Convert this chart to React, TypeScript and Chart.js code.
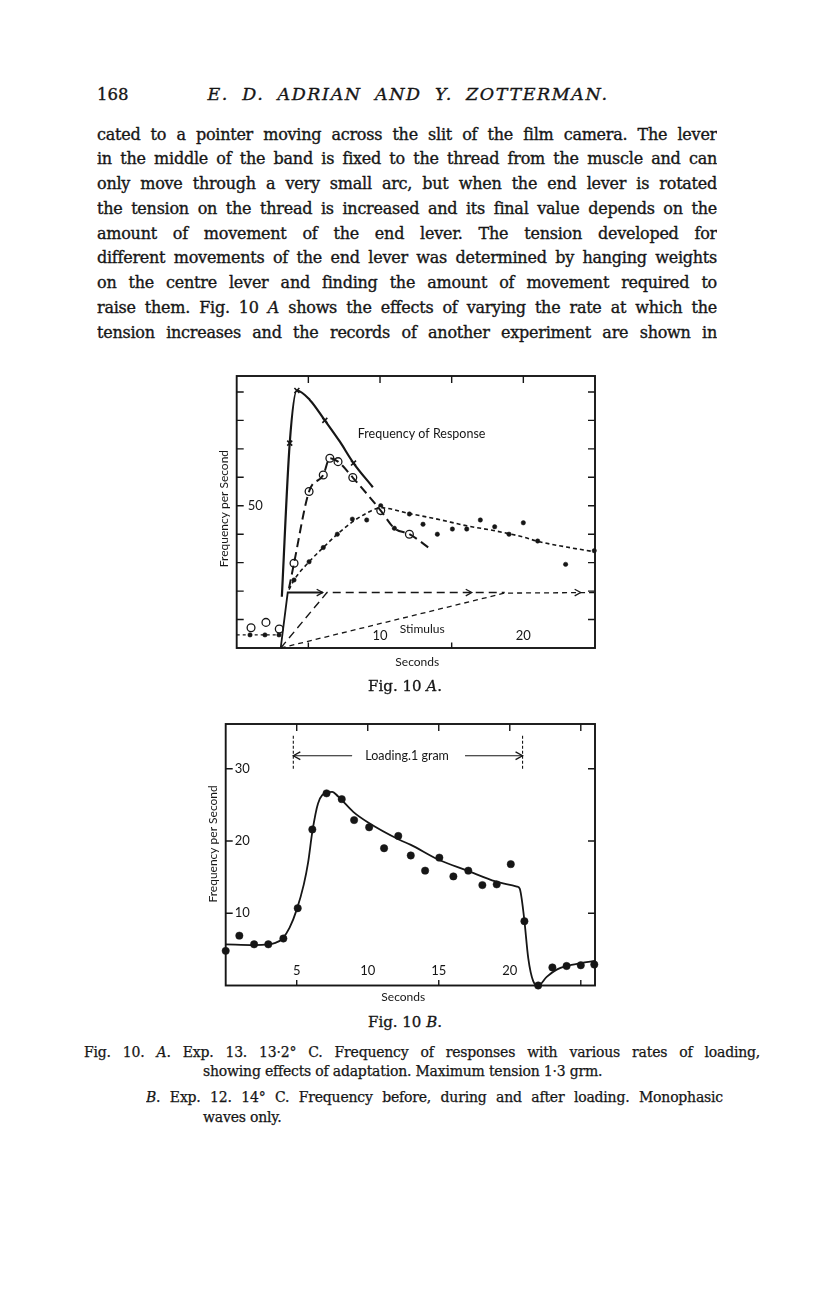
import React, { useEffect, useRef } from "react";
import { Chart, registerables } from "chart.js";

Chart.register(...registerables);

// ---------------- Fig. 10 A (Exp. 13) ----------------
const aXMin = 0;
const aXMax = 25;
const aYMin = 0;
const aYMax = 95.6;

// crosses, solid curve
const aCrossCurveX = [3.15, 3.7, 4.2, 5.1, 6.15, 7.2, 8.15, 9.5];
const aCrossCurveY = [18, 72, 90.5, 87.2, 80, 72.5, 65, 56.5];
const aCrossMarkX = [3.7, 4.2, 6.15, 8.15];
const aCrossMarkY = [72, 90.5, 80, 65];

// open circles, long dashed curve
const aCircleCurveX = [3.65, 4.0, 5.05, 6.04, 6.5, 7.07, 8.1, 10.05, 11.0, 12.05, 13.6];
const aCircleCurveY = [21, 29.8, 55, 60.8, 66.7, 65.5, 59.9, 48.3, 42.1, 40, 34.5];
const aCircleMarkX = [1.0, 2.04, 2.97, 4.0, 5.05, 6.04, 6.5, 7.07, 8.1, 10.05, 12.05];
const aCircleMarkY = [7.1, 9.0, 6.7, 29.8, 55, 60.8, 66.7, 65.5, 59.9, 48.3, 40];

// filled dots, short dashed curve
const aDotBaseX = [0, 3.0];
const aDotBaseY = [4.6, 4.6];
const aDotCurveX = [3.65, 4.0, 5.05, 6.04, 7.02, 8.07, 9.0, 10.05, 12.0, 14.0, 16.0, 18.0, 20.0, 21.0, 23.0, 25.0];
const aDotCurveY = [20.5, 23.9, 30.3, 35.3, 40, 44.3, 47.2, 49.3, 47.3, 45.3, 43, 41.2, 39, 37.5, 35.5, 33.8];
const aDotMarkX = [0.93, 1.97, 2.95, 4.0, 5.05, 6.04, 7.02, 8.07, 9.07, 10.05, 11.0, 12.05, 13.0, 14.0, 15.05, 16.05, 17.0, 18.0, 19.0, 20.0, 21.0, 22.95, 24.95];
const aDotMarkY = [4.6, 4.6, 4.6, 23.9, 30.3, 35.3, 40, 45.3, 45, 50, 42.1, 47.1, 43.5, 40, 41.8, 41.8, 45, 42.6, 40, 44, 37.6, 29.4, 34.2];

// stimulus (rate of loading) lines
const aStimSolidX = [3.07, 3.56, 6.0];
const aStimSolidY = [0, 19.5, 19.5];
const aStimLongX = [3.07, 6.3, 18.7];
const aStimLongY = [0, 19.5, 19.5];
const aStimShortX = [3.07, 18.7, 25];
const aStimShortY = [0, 19.3, 19.5];
const aStimArrowX = [6.0, 16.4, 24.0];
const aStimArrowY = [19.5, 19.5, 19.5];

const aXTicks = [5, 10, 15, 20];
const aXTickLabels = ["10", "20"];
const aXTickLabelVals = [10, 20];
const aYTicks = [10, 20, 30, 40, 50, 60, 70, 80, 90];
const aYTickLabels = ["50"];
const aYTickLabelVals = [50];

// ---------------- Fig. 10 B (Exp. 12) ----------------
const bXMin = 0;
const bXMax = 26;
const bYMin = 0;
const bYMax = 36.2;

const bCurveX = [0, 2, 3, 3.5, 4, 4.5, 5, 5.5, 5.8, 6.1, 6.5, 7.1, 7.5, 7.9, 9, 10, 12.3, 13, 15, 17, 19, 20.5, 20.7, 21.0, 21.3, 21.65, 22.0, 22.6, 23.3, 24, 25, 26];
const bCurveY = [5.7, 5.6, 5.7, 5.9, 6.5, 8, 10.5, 14, 17, 21.3, 25.2, 26.7, 26.8, 26.2, 24, 22.6, 20.1, 19.5, 17.4, 15.9, 14.4, 13.7, 13.4, 9.5, 3.8, 0.6, 0, 1.2, 2.2, 2.7, 3.1, 3.4];
const bDotX = [0, 0.96, 2.0, 3.0, 4.06, 5.07, 6.1, 7.1, 8.17, 9.04, 10.1, 11.15, 12.15, 13.03, 14.04, 15.04, 16.03, 17.08, 18.07, 19.08, 20.07, 21.03, 22.0, 23.0, 24.0, 25.0, 25.95];
const bDotY = [4.8, 6.9, 5.7, 5.7, 6.5, 10.7, 21.6, 26.6, 25.8, 22.9, 21.9, 19.0, 20.7, 18.0, 15.9, 17.7, 15.1, 15.9, 13.9, 14.0, 16.8, 8.9, 0, 2.5, 2.7, 2.8, 2.9];

// loading period marker (1 gram)
const bLoadStartX = 4.76;
const bLoadEndX = 20.9;
const bLoadLowY = 30;
const bLoadHighY = 34.6;
const bLoadArrowY = 31.8;
const bLoadShaftLeftEndX = 8.9;
const bLoadShaftRightStartX = 16.85;

const bXTicksTop = [5, 10, 15, 20, 25];
const bXTicksBottom = [5, 15, 25];
const bXTickLabels = ["5", "10", "15", "20"];
const bXTickLabelVals = [5, 10, 15, 20];
const bYTicks = [10, 20, 30];
const bYTickLabels = ["10", "20", "30"];
const bYTickLabelVals = [10, 20, 30];

// ---------------- text ----------------
const bodyLines: React.ReactNode[] = [
  "cated to a pointer moving across the slit of the film camera. The lever",
  "in the middle of the band is fixed to the thread from the muscle and can",
  "only move through a very small arc, but when the end lever is rotated",
  "the tension on the thread is increased and its final value depends on the",
  "amount of movement of the end lever. The tension developed for",
  "different movements of the end lever was determined by hanging weights",
  "on the centre lever and finding the amount of movement required to",
  <>raise them. Fig. 10 <i>A</i> shows the effects of varying the rate at which the</>,
  "tension increases and the records of another experiment are shown in",
];

const INK = "#161616";
const CHART_FONT = '"Lato", "Open Sans", sans-serif';
const SERIF = '"DejaVu Serif", "Liberation Serif", serif';

const pts = (xs: number[], ys: number[]) => xs.map((x, i) => ({ x, y: ys[i] }));

const paperPlugin = {
  id: "paper",
  afterDatasetsDraw(chart: any, _args: any, o: any) {
    const { ctx, chartArea: a } = chart;
    const x = chart.scales.x;
    const y = chart.scales.y;
    ctx.save();
    ctx.strokeStyle = INK;
    ctx.fillStyle = INK;
    ctx.lineWidth = o.frameWidth;
    ctx.lineCap = "square";
    ctx.strokeRect(a.left, a.top, a.right - a.left, a.bottom - a.top);

    ctx.lineWidth = o.tickWidth;
    ctx.lineCap = "butt";
    ctx.beginPath();
    for (const v of o.xTicksTop) {
      const px = x.getPixelForValue(v);
      ctx.moveTo(px, a.top);
      ctx.lineTo(px, a.top + o.tickLen);
    }
    for (const v of o.xTicksBottom) {
      const px = x.getPixelForValue(v);
      ctx.moveTo(px, a.bottom);
      ctx.lineTo(px, a.bottom - o.tickLen * 0.8);
    }
    for (const v of o.yTicks) {
      const py = y.getPixelForValue(v);
      ctx.moveTo(a.left, py);
      ctx.lineTo(a.left + o.tickLen, py);
      ctx.moveTo(a.right, py);
      ctx.lineTo(a.right - o.tickLen, py);
    }
    ctx.stroke();

    // tick labels drawn inside the frame
    ctx.font = `${o.tickFontSize}px ${CHART_FONT}`;
    ctx.textBaseline = "middle";
    ctx.textAlign = "center";
    o.xLabels.forEach((t: string, i: number) => {
      ctx.fillText(t, x.getPixelForValue(o.xLabelVals[i]), a.bottom - o.xLabelRise);
    });
    ctx.textAlign = "left";
    o.yLabels.forEach((t: string, i: number) => {
      ctx.fillText(t, a.left + o.yLabelInset, y.getPixelForValue(o.yLabelVals[i]));
    });

    // axis titles
    ctx.font = `${o.titleFontSize}px ${CHART_FONT}`;
    ctx.textAlign = "center";
    ctx.fillText("Seconds", x.getPixelForValue(o.xTitleAt), a.bottom + o.xTitleDrop);
    ctx.save();
    ctx.translate(a.left - o.yTitleOffset, y.getPixelForValue(o.yTitleAt));
    ctx.rotate(-Math.PI / 2);
    ctx.fillText("Frequency per Second", 0, 0);
    ctx.restore();

    // annotation texts
    for (const n of o.notes) {
      ctx.font = `${n.size}px ${CHART_FONT}`;
      ctx.fillText(n.text, x.getPixelForValue(n.x), y.getPixelForValue(n.y));
    }

    // arrow heads
    ctx.lineWidth = 1.3;
    for (const ar of o.arrows) {
      const px = x.getPixelForValue(ar.x);
      const py = y.getPixelForValue(ar.y);
      ctx.beginPath();
      ctx.moveTo(px - ar.dir * ar.size, py - ar.size * 0.55);
      ctx.lineTo(px, py);
      ctx.lineTo(px - ar.dir * ar.size, py + ar.size * 0.55);
      ctx.stroke();
    }
    ctx.restore();
  },
};

function line(data: any[], width: number, dash: number[], smooth = true) {
  return {
    data,
    showLine: true,
    borderColor: INK,
    borderWidth: width,
    borderDash: dash,
    pointRadius: 0,
    cubicInterpolationMode: smooth ? "monotone" : "default",
    tension: 0,
    clip: false,
  };
}

function marks(data: any[], style: string, radius: number, fill: string, bw: number) {
  return {
    data,
    showLine: false,
    pointStyle: style,
    pointRadius: radius,
    pointBackgroundColor: fill,
    pointBorderColor: INK,
    pointBorderWidth: bw,
    clip: false,
  };
}

function baseOptions(xmin: number, xmax: number, ymin: number, ymax: number, pad: any, paper: any) {
  return {
    responsive: false,
    animation: false,
    events: [],
    layout: { padding: pad },
    scales: {
      x: { type: "linear", min: xmin, max: xmax, display: false },
      y: { type: "linear", min: ymin, max: ymax, display: false },
    },
    plugins: { legend: { display: false }, tooltip: { enabled: false }, paper },
  };
}

function ChartA() {
  const ref = useRef<HTMLCanvasElement>(null);
  useEffect(() => {
    const chart = new Chart(ref.current!, {
      type: "scatter",
      data: {
        datasets: [
          line(pts(aStimSolidX, aStimSolidY), 1.8, [], false),
          line(pts(aStimLongX, aStimLongY), 1.4, [8, 5], false),
          line(pts(aStimShortX, aStimShortY), 1.3, [5, 4], false),
          line(pts(aCrossCurveX, aCrossCurveY), 2.2, []),
          line(pts(aCircleCurveX, aCircleCurveY), 2, [9, 5]),
          line(pts(aDotCurveX, aDotCurveY), 1.6, [4, 3]),
          line(pts(aDotBaseX, aDotBaseY), 1.3, [3, 3], false),
          marks(pts(aCrossMarkX, aCrossMarkY), "crossRot", 3.5, INK, 1.6),
          marks(pts(aCircleMarkX, aCircleMarkY), "circle", 3.9, "#ffffff", 1.3),
          marks(pts(aDotMarkX, aDotMarkY), "circle", 2.2, INK, 0.5),
        ] as any,
      },
      options: baseOptions(aXMin, aXMax, aYMin, aYMax, { left: 36.7, right: 15, top: 16, bottom: 32 }, {
        frameWidth: 1.9,
        tickWidth: 1.4,
        tickLen: 7,
        xTicksTop: aXTicks,
        xTicksBottom: [5, 15],
        yTicks: aYTicks,
        tickFontSize: 13,
        xLabels: aXTickLabels,
        xLabelVals: aXTickLabelVals,
        xLabelRise: 12,
        yLabels: aYTickLabels,
        yLabelVals: aYTickLabelVals,
        yLabelInset: 11,
        titleFontSize: 12,
        xTitleAt: 12.6,
        xTitleDrop: 14,
        yTitleAt: 49,
        yTitleOffset: 13,
        notes: [
          { text: "Frequency of Response", x: 12.9, y: 75.1, size: 12.5 },
          { text: "Stimulus", x: 12.95, y: 6.6, size: 12 },
        ],
        arrows: aStimArrowX.map((v, i) => ({ x: v, y: aStimArrowY[i], dir: 1, size: 6 })),
      }) as any,
      plugins: [paperPlugin],
    });
    return () => chart.destroy();
  }, []);
  return <canvas ref={ref} width={410} height={320} style={{ position: "absolute", left: 200, top: 360, width: 410, height: 320 }} />;
}

function ChartB() {
  const ref = useRef<HTMLCanvasElement>(null);
  useEffect(() => {
    const chart = new Chart(ref.current!, {
      type: "scatter",
      data: {
        datasets: [
          line(pts(bCurveX, bCurveY), 1.8, []),
          marks(pts(bDotX, bDotY), "circle", 3.7, INK, 0.5),
          line(pts([bLoadStartX, bLoadStartX], [bLoadLowY, bLoadHighY]), 1.1, [3, 2], false),
          line(pts([bLoadEndX, bLoadEndX], [bLoadLowY, bLoadHighY]), 1.1, [3, 2], false),
          line(pts([bLoadStartX, bLoadShaftLeftEndX], [bLoadArrowY, bLoadArrowY]), 1.1, [], false),
          line(pts([bLoadShaftRightStartX, bLoadEndX], [bLoadArrowY, bLoadArrowY]), 1.1, [], false),
        ] as any,
      },
      options: baseOptions(bXMin, bXMax, bYMin, bYMax, { left: 35.7, right: 15, top: 14, bottom: 24.5 }, {
        frameWidth: 1.9,
        tickWidth: 1.4,
        tickLen: 7,
        xTicksTop: bXTicksTop,
        xTicksBottom: bXTicksBottom,
        yTicks: bYTicks,
        tickFontSize: 13,
        xLabels: bXTickLabels,
        xLabelVals: bXTickLabelVals,
        xLabelRise: 15,
        yLabels: bYTickLabels,
        yLabelVals: bYTickLabelVals,
        yLabelInset: 9,
        titleFontSize: 12,
        xTitleAt: 12.5,
        xTitleDrop: 11.5,
        yTitleAt: 19.6,
        yTitleOffset: 12.5,
        notes: [{ text: "Loading.1 gram", x: 12.77, y: bLoadArrowY, size: 12.5 }],
        arrows: [
          { x: bLoadStartX, y: bLoadArrowY, dir: -1, size: 7 },
          { x: bLoadEndX, y: bLoadArrowY, dir: 1, size: 7 },
        ],
      }) as any,
      plugins: [paperPlugin],
    });
    return () => chart.destroy();
  }, []);
  return <canvas ref={ref} width={420} height={300} style={{ position: "absolute", left: 190, top: 710, width: 420, height: 300 }} />;
}

const abs = (left: number, top: number, extra: React.CSSProperties = {}): React.CSSProperties => ({
  position: "absolute",
  left,
  top,
  margin: 0,
  color: INK,
  fontFamily: SERIF,
  WebkitTextStroke: "0.35px #161616",
  ...extra,
});

export default function App() {
  const lineH = 24.75;
  const just: React.CSSProperties = {
    textAlign: "justify",
    textAlignLast: "justify" as any,
    width: 620,
    fontSize: 16,
    letterSpacing: -0.25,
    lineHeight: `${lineH}px`,
    height: lineH,
    overflow: "hidden",
  };
  const capJust: React.CSSProperties = {
    fontSize: 14,
    letterSpacing: -0.2,
    lineHeight: "19px",
    textAlign: "justify",
    textAlignLast: "justify" as any,
    height: 19,
    overflow: "hidden",
    WebkitTextStroke: "0.25px #161616",
  };
  const capPlain: React.CSSProperties = { fontSize: 14, letterSpacing: -0.2, lineHeight: "19px", WebkitTextStroke: "0.25px #161616" };
  return (
    <div style={{ position: "absolute", left: 0, top: 0, width: 816, height: 1296, background: "#ffffff" }}>
      <div style={abs(97, 84, { fontSize: 16.5, lineHeight: "22px" })}>168</div>
      <div style={abs(203, 83, { fontSize: 17.5, lineHeight: "22px", fontStyle: "italic", width: 410, textAlign: "center", letterSpacing: 1.6, wordSpacing: 6 })}>
        E. D. ADRIAN AND Y. ZOTTERMAN.
      </div>
      {bodyLines.map((t, i) => (
        <div key={i} style={abs(97, 135 - lineH / 2 + i * lineH, just)}>
          {t}
        </div>
      ))}

      <ChartA />
      <div style={abs(300, 676, { width: 210, textAlign: "center", fontSize: 15, lineHeight: "20px", WebkitTextStroke: "0.3px #161616" })}>
        Fig. 10 <i>A</i>.
      </div>

      <ChartB />
      <div style={abs(300, 1012, { width: 210, textAlign: "center", fontSize: 15, lineHeight: "20px", WebkitTextStroke: "0.3px #161616" })}>
        Fig. 10 <i>B</i>.
      </div>

      <div style={abs(84, 1043, { ...capJust, width: 676 })}>
        Fig. 10. <i>A</i>. Exp. 13. 13·2° C. Frequency of responses with various rates of loading,
      </div>
      <div style={abs(203, 1062, capPlain)}>showing effects of adaptation. Maximum tension 1·3 grm.</div>
      <div style={abs(146, 1088, { ...capJust, width: 577 })}>
        <i>B</i>. Exp. 12. 14° C. Frequency before, during and after loading. Monophasic
      </div>
      <div style={abs(203, 1108, capPlain)}>waves only.</div>
    </div>
  );
}
